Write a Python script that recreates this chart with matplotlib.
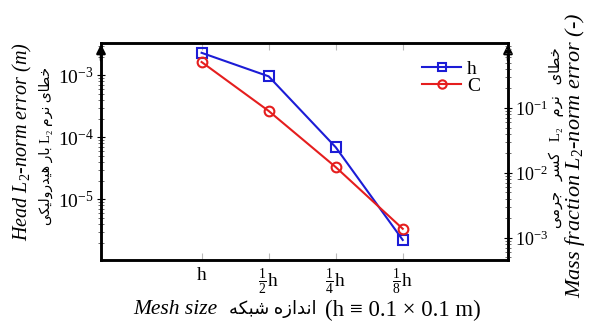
import matplotlib
matplotlib.use("Agg")
import matplotlib.pyplot as plt
from matplotlib.lines import Line2D

# values
mesh_pos = [0, 1, 2, 3]
mesh_labels = [r"$\mathrm{h}$", r"$\frac{1}{2}\mathrm{h}$", r"$\frac{1}{4}\mathrm{h}$", r"$\frac{1}{8}\mathrm{h}$"]
head_err = [2.3e-3, 9.6e-4, 6.9e-5, 2.2e-6]
conc_err = [0.51, 0.09, 0.0123, 1.38e-3]

FORMS = {
    "ا": ("\uFE8D", "\uFE8E", None, None),
    "ب": ("\uFE8F", "\uFE90", "\uFE91", "\uFE92"),
    "ج": ("\uFE9D", "\uFE9E", "\uFE9F", "\uFEA0"),
    "خ": ("\uFEA5", "\uFEA6", "\uFEA7", "\uFEA8"),
    "د": ("\uFEA9", "\uFEAA", None, None),
    "ر": ("\uFEAD", "\uFEAE", None, None),
    "ز": ("\uFEAF", "\uFEB0", None, None),
    "س": ("\uFEB1", "\uFEB2", "\uFEB3", "\uFEB4"),
    "ش": ("\uFEB5", "\uFEB6", "\uFEB7", "\uFEB8"),
    "ط": ("\uFEC1", "\uFEC2", "\uFEC3", "\uFEC4"),
    "ل": ("\uFEDD", "\uFEDE", "\uFEDF", "\uFEE0"),
    "م": ("\uFEE1", "\uFEE2", "\uFEE3", "\uFEE4"),
    "ن": ("\uFEE5", "\uFEE6", "\uFEE7", "\uFEE8"),
    "ه": ("\uFEE9", "\uFEEA", "\uFEEB", "\uFEEC"),
    "و": ("\uFEED", "\uFEEE", None, None),
    "ی": ("\uFBFC", "\uFBFD", "\uFBFE", "\uFBFF"),
    "ک": ("\uFB8E", "\uFB8F", "\uFB90", "\uFB91"),
}


def shape_word(w):
    out = []
    for i, ch in enumerate(w):
        f = FORMS.get(ch)
        if f is None:
            out.append(ch)
            continue
        prev = w[i - 1] if i > 0 else None
        nxt = w[i + 1] if i < len(w) - 1 else None
        jp = prev in FORMS and FORMS[prev][2] is not None
        jn = nxt in FORMS and f[2] is not None
        if jp and jn:
            out.append(f[3])
        elif jp:
            out.append(f[1])
        elif jn:
            out.append(f[2])
        else:
            out.append(f[0])
    return "".join(reversed(out))


def rtl(s, sep=" "):
    words = s.split(" ")
    vis = [shape_word(w) if any(c in FORMS for c in w) else w for w in words]
    return sep.join(reversed(vis))


plt.rcParams["font.family"] = ["Liberation Serif", "DejaVu Sans"]
plt.rcParams["mathtext.fontset"] = "custom"
plt.rcParams["mathtext.rm"] = "Liberation Serif"
plt.rcParams["mathtext.it"] = "Liberation Serif:italic"

blue = "#1c1cd6"
red = "#e51e1e"
fa = ["Liberation Serif", "DejaVu Sans"]

fig = plt.figure(figsize=(5.89, 3.27), dpi=100)
ax = fig.add_axes([0.1715, 0.205, 0.691, 0.6635])
ax2 = ax.twinx()

ax.plot(mesh_pos, head_err, "-s", color=blue, lw=1.5, ms=7, mfc="none", mew=1.5)
ax2.plot(mesh_pos, conc_err, "-o", color=red, lw=1.5, ms=7, mfc="none", mew=1.5)

ax.set_yscale("log")
ax2.set_yscale("log")
ax.set_ylim(10 ** -5.98, 10 ** -2.48)
ax2.set_ylim(10 ** -3.34, 10 ** 0.0)
ax.set_xlim(-1.5, 4.57)
ax.set_yticks([1e-5, 1e-4, 1e-3])
ax2.set_yticks([1e-3, 1e-2, 1e-1])

ax.set_xticks(mesh_pos)
ax.set_xticklabels(mesh_labels, fontsize=14)
ax.tick_params(axis="x", direction="in", length=5, color="#bbbbbb", top=True, pad=5)
ax.tick_params(axis="y", which="major", direction="inout", length=6, width=0.8, labelsize=14, pad=2)
ax.tick_params(axis="y", which="minor", direction="inout", length=4, width=0.6, color="#555555")
ax2.tick_params(axis="y", which="major", direction="inout", length=6, width=0.8, labelsize=13, pad=2)
ax2.tick_params(axis="y", which="minor", direction="inout", length=4, width=0.6, color="#555555")

for a in (ax, ax2):
    for s in a.spines.values():
        s.set_linewidth(1.8)

for xa in (0, 1):
    ax.annotate("", xy=(xa, 0.995), xytext=(xa, 0.92), xycoords="axes fraction",
                arrowprops=dict(arrowstyle="-|>", color="k", lw=1.8, mutation_scale=13,
                                shrinkA=0, shrinkB=0))

handles = [
    Line2D([], [], color=blue, lw=1.5, marker="s", ms=6, mfc="none", mew=1.5),
    Line2D([], [], color=red, lw=1.5, marker="o", ms=6, mfc="none", mew=1.5),
]
ax2.legend(handles, ["h", "C"], loc="upper right", bbox_to_anchor=(0.955, 0.965),
           frameon=False, fontsize=14, handlelength=2.0, handletextpad=0.3,
           labelspacing=-0.05, borderpad=0)

W, H = 589.0, 327.0

# left label
fig.text(22 / W, 1 - 142 / H, "Head $L_\\mathrm{2}$-norm error (m)", rotation=90,
         ha="center", va="center", fontsize=14.5, style="italic")
fig.text(46 / W, 1 - 146 / H, rtl("خطای نرم L₂ بار هیدرولیکی"), rotation=90,
         ha="center", va="center", fontsize=10, family=fa)

# right label
fig.text(575 / W, 1 - 155 / H, "Mass fraction $L_\\mathrm{2}$-norm error (-)", rotation=90,
         ha="center", va="center", fontsize=16, style="italic")
fig.text(556 / W, 1 - 138 / H, rtl("خطای نرم L₂ کسر جرمی", sep="   "), rotation=90,
         ha="center", va="center", fontsize=10.5, family=fa)

# x label
fig.text(133 / W, 1 - 310 / H, "Mesh size", ha="left", va="center", fontsize=15.5, style="italic")
fig.text(229 / W, 1 - 309 / H, rtl("اندازه شبکه"), ha="left", va="center", fontsize=13, family=fa)
fig.text(325 / W, 1 - 310 / H, "(h ≡ 0.1 × 0.1 m)", ha="left", va="center", fontsize=16.5, family=fa)

fig.savefig("out.png", dpi=100)
